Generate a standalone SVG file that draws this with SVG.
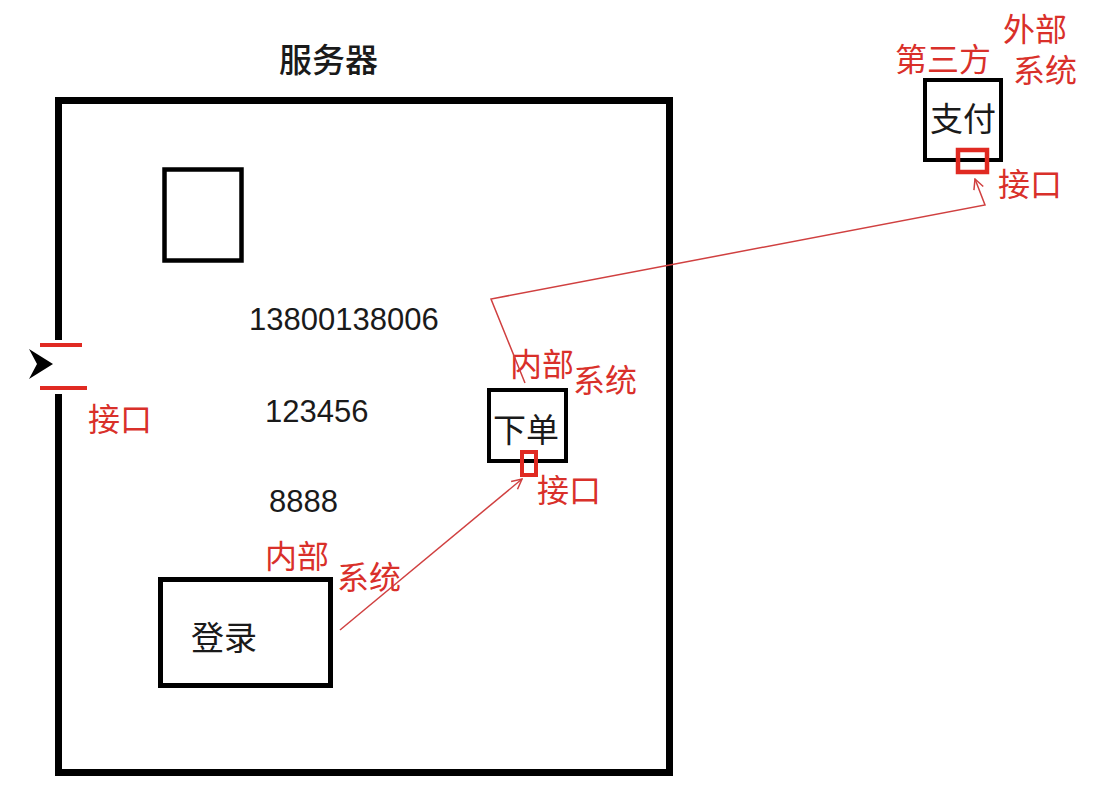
<svg xmlns="http://www.w3.org/2000/svg" width="1104" height="785" viewBox="0 0 1104 785">
<style>
.blk{fill:none;stroke:#000;}
.red{fill:none;stroke:#e02a22;}
.lbl{font-family:"Noto Sans CJK SC","Noto Sans",sans-serif;font-size:32px;fill:#d9302a;}
.ink{font-family:"Noto Sans CJK SC","Noto Sans",sans-serif;font-size:33px;fill:#1a1a1a;}
.num{font-family:"Liberation Sans",Arial,sans-serif;font-size:31px;fill:#1a1a1a;}
.wire{fill:none;stroke:#d04040;stroke-width:1.5;}
</style>
<defs>
<marker id="ah" viewBox="0 0 12 12" refX="11" refY="6" markerWidth="12" markerHeight="12" markerUnits="userSpaceOnUse" orient="auto">
<path d="M1,1 L11,6 L1,11" fill="none" stroke="#d04040" stroke-width="1.5"/>
</marker>
</defs>
<rect width="1104" height="785" fill="#fff"/>

<g id="server">
<path class="blk" stroke-width="7" d="M58.5,340 V100.5 H669.5 V772.5 H58.5 V394"/>
<text class="ink" x="279" y="72" font-weight="500">服务器</text>
</g>

<g id="server-interface">
<line class="red" stroke-width="4" x1="40" y1="345" x2="82" y2="345"/>
<line class="red" stroke-width="4" x1="40" y1="388" x2="87" y2="388"/>
<path d="M29,349 L53,364 L29,379 L37,364 Z" fill="#000"/>
<text class="lbl" x="88" y="431">接口</text>
</g>

<g id="empty-box">
<rect class="blk" stroke-width="4.5" x="164.5" y="169.5" width="77" height="91"/>
</g>

<g id="values">
<text class="num" x="249" y="330">13800138006</text>
<text class="num" x="265" y="422">123456</text>
<text class="num" x="269" y="512">8888</text>
</g>

<g id="login">
<rect class="blk" stroke-width="5" x="160.5" y="579.5" width="170" height="106"/>
<text class="ink" x="191" y="650">登录</text>
<text class="lbl" x="265" y="568">内部</text>
<text class="lbl" x="337" y="589">系统</text>
</g>

<g id="order">
<rect class="blk" stroke-width="4" x="489" y="390" width="77" height="71"/>
<text class="ink" x="493" y="442">下单</text>
<rect class="red" stroke-width="4" x="522" y="452" width="14" height="23" fill="#fff"/>
<text class="lbl" x="537" y="502">接口</text>
<text class="lbl" x="510" y="376">内部</text>
<text class="lbl" x="573" y="392">系统</text>
</g>

<g id="payment">
<rect class="blk" stroke-width="4" x="925" y="80" width="76" height="80"/>
<text class="ink" x="930" y="131">支付</text>
<rect class="red" stroke-width="4.5" x="958" y="150" width="29" height="22" fill="#fff"/>
<text class="lbl" x="895" y="71">第三方</text>
<text class="lbl" x="1003" y="41">外部</text>
<text class="lbl" x="1013" y="82">系统</text>
<text class="lbl" x="998" y="196">接口</text>
</g>

<g id="connectors">
<line class="wire" x1="340" y1="630" x2="522" y2="479" marker-end="url(#ah)"/>
<polyline class="wire" points="525,383 491,299 985,205 975,179" marker-end="url(#ah)"/>
</g>
</svg>
